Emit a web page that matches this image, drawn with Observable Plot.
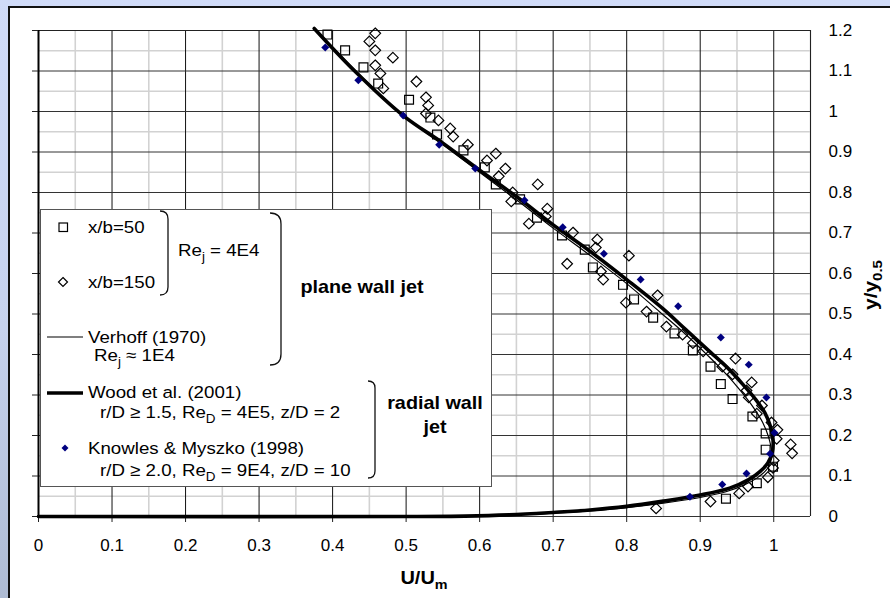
<!DOCTYPE html>
<html><head><meta charset="utf-8">
<script src="https://cdn.jsdelivr.net/npm/d3@7"></script>
<script src="https://cdn.jsdelivr.net/npm/@observablehq/plot@0.6"></script>
<style>
html,body{margin:0;padding:0;}
#wrap{position:relative;width:890px;height:598px;background:linear-gradient(to bottom,#d0dbf8 0%,#c6d2ee 55%,#aebbd3 100%);overflow:hidden;font-family:"Liberation Sans",Arial,sans-serif;}
#panel{position:absolute;left:8px;top:6px;width:882px;height:592px;background:#fff;border-left:2px solid #111;border-top:2px solid #111;box-sizing:border-box;}
#chart{position:absolute;left:0;top:0;}
</style></head><body>
<div id="wrap"><div id="panel"></div><div id="chart"></div></div>
<script>
// ---- tick values ----
const xTicks = [0,0.1,0.2,0.3,0.4,0.5,0.6,0.7,0.8,0.9,1];
const yTicks = [0,0.1,0.2,0.3,0.4,0.5,0.6,0.7,0.8,0.9,1,1.1,1.2];
const xMinor = [0.05,0.15,0.25,0.35,0.45,0.55,0.65,0.75,0.85,0.95,1.05];
const yMinor = [0.05,0.15,0.25,0.35,0.45,0.55,0.65,0.75,0.85,0.95,1.05,1.15];

// ---- Verhoff (1970), thin line ----
const verhoffU = [0.378,0.44,0.5,0.55,0.6,0.65,0.7,0.75,0.8,0.845,0.88,0.91,0.935,0.955,0.972,0.985,0.993,0.997,0.995,0.99,0.978,0.96,0.935,0.9,0.85,0.8,0.75,0.7,0.64,0.58,0.5,0];
const verhoffY = [1.2,1.085,0.985,0.918,0.85,0.782,0.712,0.645,0.575,0.505,0.45,0.398,0.352,0.31,0.27,0.232,0.196,0.16,0.13,0.115,0.096,0.078,0.061,0.047,0.033,0.022,0.014,0.008,0.003,0.001,0,0];

// ---- Wood et al. (2001), thick line ----
const woodU = [0.375,0.43,0.496,0.55,0.6,0.65,0.7,0.75,0.8,0.85,0.88,0.91,0.94,0.96,0.975,0.988,0.995,0.999,0.998,0.992,0.982,0.966,0.94,0.9,0.85,0.8,0.75,0.7,0.64,0.58,0.5,0];
const woodY = [1.205,1.1,0.99,0.922,0.855,0.79,0.72,0.655,0.585,0.512,0.462,0.412,0.362,0.322,0.29,0.256,0.225,0.19,0.158,0.132,0.112,0.091,0.07,0.053,0.038,0.025,0.016,0.01,0.004,0.001,0,0];

// ---- x/b=50 (squares) ----
const sqU = [0.393,0.417,0.442,0.462,0.504,0.533,0.542,0.578,0.607,0.622,0.655,0.678,0.712,0.743,0.754,0.795,0.810,0.836,0.865,0.890,0.914,0.928,0.944,0.971,0.989,0.989,0.999,0.977,0.935];
const sqY = [1.190,1.151,1.109,1.069,1.029,0.985,0.943,0.904,0.862,0.820,0.783,0.738,0.694,0.659,0.615,0.572,0.536,0.491,0.452,0.410,0.370,0.327,0.290,0.247,0.205,0.165,0.123,0.082,0.044];

// ---- x/b=150 (open diamonds) ----
const diU = [0.458,0.450,0.458,0.482,0.458,0.465,0.469,0.514,0.527,0.530,0.527,0.544,0.560,0.564,0.584,0.622,0.610,0.635,0.626,0.679,0.645,0.643,0.692,0.690,0.667,0.727,0.760,0.758,0.803,0.719,0.765,0.768,0.842,0.799,0.827,0.854,0.876,0.890,0.904,0.948,0.930,0.944,0.970,0.963,0.966,0.984,0.977,0.997,1.005,1.004,1.023,1.025,1.000,0.999,0.992,0.965,0.953,0.914,0.840];
const diY = [1.193,1.173,1.151,1.133,1.114,1.094,1.057,1.074,1.035,1.015,0.995,0.978,0.958,0.938,0.918,0.896,0.879,0.859,0.840,0.820,0.800,0.778,0.760,0.741,0.723,0.701,0.684,0.664,0.644,0.624,0.605,0.585,0.546,0.528,0.506,0.469,0.449,0.428,0.408,0.390,0.370,0.351,0.331,0.311,0.294,0.274,0.254,0.232,0.214,0.192,0.178,0.156,0.138,0.120,0.097,0.074,0.057,0.037,0.020];

// ---- Knowles & Myszko (1998) (filled blue diamonds) ----
const kmU = [0.390,0.435,0.496,0.545,0.594,0.661,0.713,0.769,0.819,0.870,0.928,0.966,0.990,1.001,0.995,0.963,0.930,0.886];
const kmY = [1.158,1.077,0.990,0.918,0.859,0.781,0.714,0.649,0.585,0.519,0.442,0.375,0.294,0.207,0.155,0.106,0.079,0.049];

const zip = (a, b) => a.map((u, i) => ({u, y: b[i]}));
const verhoff = zip(verhoffU, verhoffY);
const wood = zip(woodU, woodY);
const squares = zip(sqU, sqY);
const diamonds = zip(diU, diY);
const knowles = zip(kmU, kmY);

const fmt = d => String(Math.round(d * 10) / 10);
const FONT = "Liberation Sans, Arial, sans-serif";

const plot = Plot.plot({
  width: 890, height: 598,
  marginLeft: 38, marginRight: 80, marginTop: 30, marginBottom: 82,
  x: {domain: [0, 1.05]},
  y: {domain: [0, 1.2]},
  style: {background: "transparent", fontFamily: FONT, fontSize: "17px", color: "#000", overflow: "visible"},
  marks: [
    Plot.gridX(xMinor, {stroke: "#d2d2d2", strokeOpacity: 1, strokeWidth: 1.6}),
    Plot.gridY(yMinor, {stroke: "#d2d2d2", strokeOpacity: 1, strokeWidth: 1.6}),
    Plot.gridX(xTicks, {stroke: "#111", strokeOpacity: 1, strokeWidth: 1}),
    Plot.gridY(yTicks, {stroke: "#333", strokeOpacity: 1, strokeWidth: 1}),
    Plot.ruleY([1.2], {stroke: "#222", strokeWidth: 1}),
    Plot.ruleX([1.05], {stroke: "#222", strokeWidth: 1}),
    Plot.ruleX([0], {stroke: "#000", strokeWidth: 2}),
    Plot.axisY(yTicks, {anchor: "left", tickSize: 6, tickFormat: () => "", label: null, stroke: "#222"}),
    Plot.axisY(yTicks, {anchor: "right", tickSize: 0, tickPadding: 18, tickFormat: fmt, label: null, fontSize: 17}),
    Plot.axisX(xTicks, {anchor: "bottom", tickSize: 6, tickPadding: 16, tickFormat: fmt, label: null, fontSize: 17, stroke: "#222"}),
    Plot.line(verhoff, {x: "u", y: "y", stroke: "#000", strokeWidth: 1.2, curve: "catmull-rom", clip: false}),
    Plot.line(wood, {x: "u", y: "y", stroke: "#000", strokeWidth: 3.6, curve: "catmull-rom", clip: false}),
    Plot.dot(squares, {x: "u", y: "y", symbol: "square", r: 5, stroke: "#000", strokeWidth: 1.2, fill: "none"}),
    Plot.dot(diamonds, {x: "u", y: "y", symbol: "diamond2", r: 4.8, stroke: "#000", strokeWidth: 1.2, fill: "none"}),
    Plot.dot(knowles, {x: "u", y: "y", symbol: "diamond2", r: 3.6, fill: "#000080", stroke: "none"})
  ]
});
document.getElementById("chart").appendChild(plot);

const svg = d3.select(plot);
const g = svg.append("g").attr("font-family", FONT).attr("fill", "#000");

function rich(parent, x, y, parts, size, weight, anchor, sx) {
  const t = parent.append("text")
    .attr("transform", `translate(${x},${y}) scale(${sx || 1.1},1)`)
    .attr("font-size", size).attr("font-weight", weight || "normal")
    .attr("text-anchor", anchor || "start");
  let sub = false;
  parts.forEach(p => {
    const isSub = Array.isArray(p);
    const s = isSub ? p[0] : p;
    const ts = t.append("tspan").text(s);
    if (isSub && !sub) { ts.attr("dy", 5).attr("font-size", size * 0.72); sub = true; }
    else if (!isSub && sub) { ts.attr("dy", -5); sub = false; }
  });
  return t;
}

// legend box
g.append("rect").attr("x", 40.5).attr("y", 209.5).attr("width", 451).attr("height", 277)
  .attr("fill", "#fff").attr("stroke", "#555").attr("stroke-width", 1);

// legend symbols
g.append("rect").attr("x", 59).attr("y", 223).attr("width", 8.5).attr("height", 8.5)
  .attr("fill", "none").attr("stroke", "#000").attr("stroke-width", 1.2);
g.append("path").attr("d", "M63,277.5 L67.5,282 L63,286.5 L58.5,282 Z")
  .attr("fill", "none").attr("stroke", "#000").attr("stroke-width", 1.2);
g.append("line").attr("x1", 47).attr("x2", 83).attr("y1", 337).attr("y2", 337)
  .attr("stroke", "#000").attr("stroke-width", 1.2);
g.append("line").attr("x1", 47).attr("x2", 83).attr("y1", 393).attr("y2", 393)
  .attr("stroke", "#000").attr("stroke-width", 3.6);
g.append("path").attr("d", "M65,444.5 L68.5,448 L65,451.5 L61.5,448 Z").attr("fill", "#000080");

// legend text
rich(g, 88, 233, ["x/b=50"], 17);
rich(g, 88, 288, ["x/b=150"], 17);
rich(g, 178, 256, ["Re", ["j"], " = 4E4"], 17);
rich(g, 88, 343, ["Verhoff (1970)"], 17);
rich(g, 94, 361, ["Re", ["j"], " \u2248 1E4"], 17);
rich(g, 88, 398, ["Wood et al. (2001)"], 17);
rich(g, 100, 418, ["r/D \u2265 1.5, Re", ["D"], " = 4E5, z/D = 2"], 17);
rich(g, 88, 454, ["Knowles & Myszko (1998)"], 17);
rich(g, 100, 476, ["r/D \u2265 2.0, Re", ["D"], " = 9E4, z/D = 10"], 17);
rich(g, 362, 293, ["plane wall jet"], 18, "bold", "middle");
rich(g, 435, 409, ["radial wall"], 18, "bold", "middle");
rich(g, 435, 433, ["jet"], 18, "bold", "middle");

// brackets
const br = d => g.append("path").attr("d", d).attr("fill", "none").attr("stroke", "#111").attr("stroke-width", 1.3);
br("M160,211 Q168,211 168,219 L168,287 Q168,295 160,295");
br("M270,213 Q281,213 281,224 L281,354 Q281,365 270,365");
br("M368,381 Q375,381 375,388 L375,471 Q375,478 368,478");

// axis titles
rich(g, 424, 584, ["U/U", ["m"]], 19, "bold", "middle", 1.05);
const yt = rich(g, 0, 0, ["y/y", ["0.5"]], 19, "bold", "middle", 1.05);
yt.attr("transform", "translate(877,285) rotate(-90) scale(1.1,1)");
</script>
</body></html>
